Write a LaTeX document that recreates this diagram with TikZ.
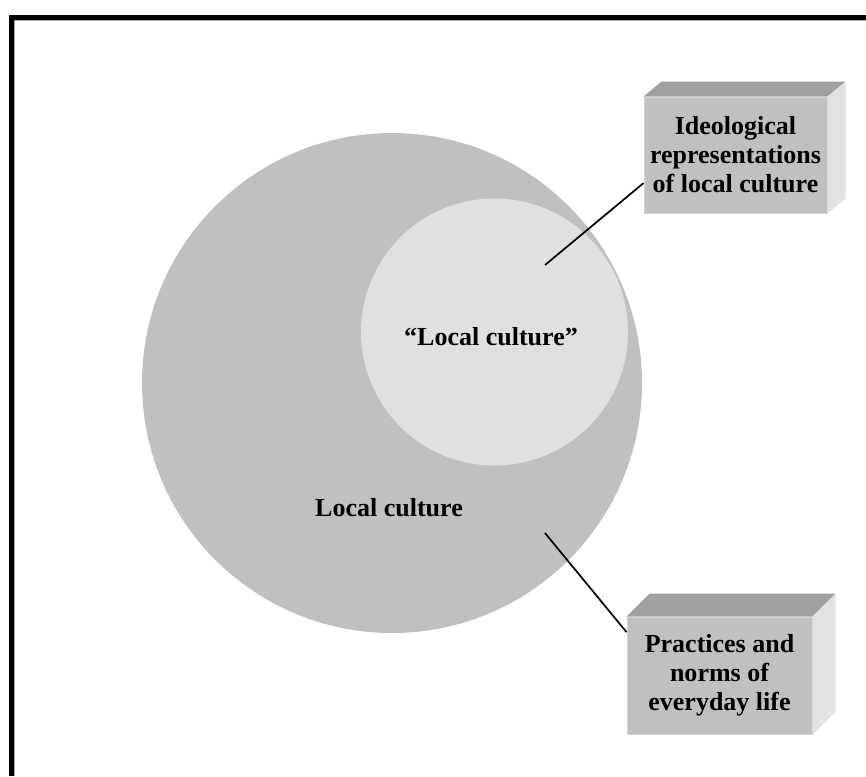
\documentclass[tikz,border=0pt]{standalone}
\usepackage{fontspec}
\setmainfont{Liberation Serif}
\usetikzlibrary{calc}
\definecolor{bigc}{HTML}{C0C0C0}
\definecolor{innerc}{HTML}{E0E0E0}
\definecolor{boxfront}{HTML}{C0C0C0}
\definecolor{boxedge}{HTML}{D4D4D4}
\definecolor{boxtop}{HTML}{A0A0A0}
\definecolor{boxside}{HTML}{E2E2E2}
\tikzset{
  lbl/.style={font=\bfseries\fontsize{26}{29}\selectfont, align=center, text=black},
  boxfrontface/.style={rectangle, fill=boxfront, draw=boxedge, line width=1pt, inner sep=0pt, lbl},
  conn/.style={draw=black, line width=1.7pt},
}
\begin{document}
\begin{tikzpicture}[x=1pt,y=-1pt]
\useasboundingbox (0,0) rectangle (866,776);
\fill[white] (0,0) rectangle (866,776);
% frame (left and top)
\fill[black] (9,15) rectangle (14,776);
\fill[black] (9,15) rectangle (866,20);
\fill[gray!70] (14,20) rectangle (15,776);
\fill[gray!70] (14,20) rectangle (866,21);
% circles
\node[circle, fill=bigc, minimum size=500pt, inner sep=0pt] (big) at (392,383) {};
\node[circle, fill=innerc, minimum size=267pt, inner sep=0pt] (inner) at (494.5,332) {};
\node[lbl] (innerlbl) at (491,337) {“Local culture”};
\node[lbl] (outerlbl) at (389,508) {Local culture};
% top box
\node[boxfrontface, minimum width=183pt, minimum height=116pt] (ideo) at (735.5,155) {Ideological\\representations\\of local culture};
\fill[boxtop] (ideo.north west) -- ++(18,-15) -- ($(ideo.north east)+(18,-15)$) -- (ideo.north east) -- cycle;
\fill[boxside] (ideo.north east) -- ++(18,-15) -- ($(ideo.south east)+(18,-15)$) -- (ideo.south east) -- cycle;
% bottom box
\node[boxfrontface, minimum width=185pt, minimum height=117pt] (prac) at (719.5,675.5) {Practices and\\norms of\\everyday life};
\fill[boxtop] (prac.north west) -- ++(23,-23) -- ($(prac.north east)+(23,-23)$) -- (prac.north east) -- cycle;
\fill[boxside] (prac.north east) -- ++(23,-23) -- ($(prac.south east)+(23,-23)$) -- (prac.south east) -- cycle;
% connectors
\coordinate (c1) at (545,265);
\coordinate (c2) at (545,533);
\draw[conn] (c1) -- (ideo.197);
\draw[conn] (c2) -- (prac.155);
\end{tikzpicture}
\end{document}
